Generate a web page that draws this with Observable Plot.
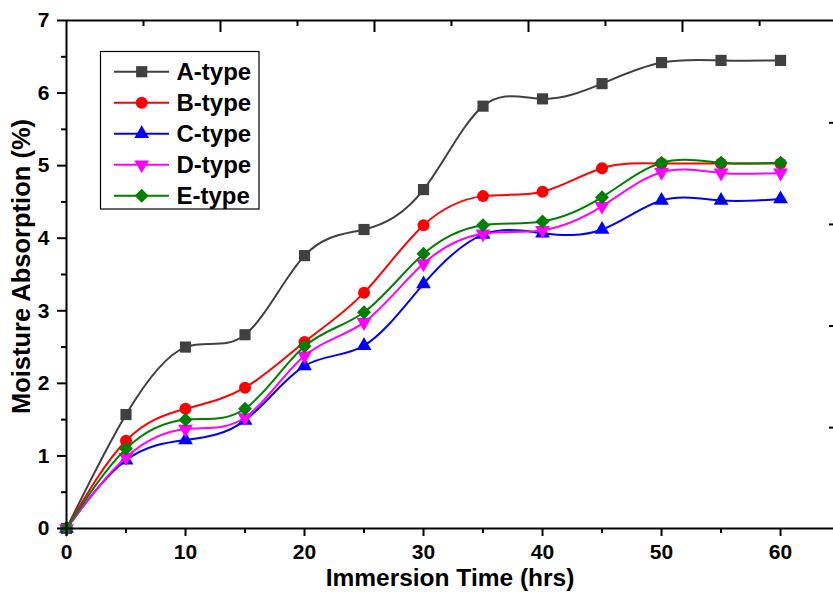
<!DOCTYPE html>
<html><head><meta charset="utf-8">
<script src="https://cdn.jsdelivr.net/npm/d3@7"></script>
<script src="https://cdn.jsdelivr.net/npm/@observablehq/plot@0.6"></script>
<style>
body{margin:0;background:#fff}
#chart{width:833px;height:592px}
</style>
</head><body><div id="chart"></div>
<script>
// ---- data ----
const times = [0,5,10,15,20,25,30,35,40,45,50,55,60];
const seriesNames = ["A-type","B-type","C-type","D-type","E-type"];
const aType = [0,1.57,2.50,2.67,3.76,4.12,4.67,5.82,5.92,6.13,6.42,6.45,6.45];
const bType = [0,1.21,1.65,1.94,2.57,3.25,4.18,4.58,4.64,4.965,5.03,5.03,5.03];
const cType = [0,0.94,1.22,1.49,2.24,2.52,3.37,4.05,4.07,4.12,4.52,4.52,4.54];
const dType = [0,0.98,1.37,1.53,2.38,2.84,3.65,4.06,4.11,4.44,4.91,4.90,4.90];
const eType = [0,1.10,1.50,1.65,2.51,2.98,3.785,4.18,4.23,4.565,5.04,5.04,5.04];
const seriesColors = ["#404040","#ff0000","#0000ff","#ff00ff","#008000"];
const xTicks = [0,10,20,30,40,50,60];
const xMinorTicks = [5,15,25,35,45,55];
const yTicks = [0,1,2,3,4,5,6,7];
const yMinorTicks = [0.5,1.5,2.5,3.5,4.5,5.5,6.5];
const topMajorTicks = [12.94,25.88,38.82,51.76];
const topMinorTicks = [6.47,19.41,32.35,45.29,58.24];
const rightTicks = [1.39,2.79,4.19,5.59];
const xTitle = "Immersion Time (hrs)";
const yTitle = "Moisture Absorption (%)";

// ---- symbols ----
const sqrt3 = Math.sqrt(3);
const triangleDown = {
  draw(context, size) {
    const y = -Math.sqrt(size / (sqrt3 * 3));
    context.moveTo(0, -y * 2);
    context.lineTo(-sqrt3 * y, y);
    context.lineTo(sqrt3 * y, y);
    context.closePath();
  }
};
const seriesSymbols = [d3.symbolSquare, d3.symbolCircle, d3.symbolTriangle, triangleDown, d3.symbolDiamond2];
const seriesR = [6.3, 6, 5.5, 5.5, 6.3];

const allValues = [aType,bType,cType,dType,eType];
const rows = seriesNames.map((name, i) => times.map((t, j) => ({series: name, t, v: allValues[i][j]})));

const W = 833, H = 592, mL = 66, mR = 0, mT = 20, mB = 64;
const frameH = H - mT - mB, frameW = W - mL - mR;
const font = "'Liberation Sans', Arial, Helvetica, sans-serif";

const seriesMarks = [];
rows.forEach((data, i) => {
  seriesMarks.push(Plot.line(data, {x: "t", y: "v", stroke: seriesColors[i], strokeWidth: 2, curve: "natural"}));
  seriesMarks.push(Plot.dot(data, {x: "t", y: "v", fill: seriesColors[i], stroke: "none", symbol: seriesSymbols[i], r: seriesR[i]}));
});

const plot = Plot.plot({
  width: W, height: H,
  marginLeft: mL, marginRight: mR, marginTop: mT, marginBottom: mB,
  style: {fontFamily: font, fontSize: "21px", fontWeight: "bold", color: "#000", background: "#fff", overflow: "visible"},
  x: {domain: [0, 64.45], axis: null},
  y: {domain: [0, 7], axis: null},
  marks: [
    ...seriesMarks,
    Plot.ruleX([0], {stroke: "#000", strokeWidth: 2}),
    Plot.ruleY([0, 7], {stroke: "#000", strokeWidth: 2}),
    Plot.axisY(yTicks, {tickSize: 9, tickPadding: 8, strokeWidth: 2, label: null, fontSize: 21, tickFormat: d => String(d)}),
    Plot.axisY(yMinorTicks, {tickSize: 5, tickFormat: () => "", strokeWidth: 2, label: null}),
    Plot.axisX(xTicks, {tickSize: 8, tickPadding: 8, strokeWidth: 2, label: null, fontSize: 21, tickFormat: d => String(d)}),
    Plot.axisX(xMinorTicks, {tickSize: 5, tickFormat: () => "", strokeWidth: 2, label: null}),
    Plot.tickX(topMajorTicks, {x: d => d, insetBottom: frameH - 12, stroke: "#000", strokeWidth: 2}),
    Plot.tickX(topMinorTicks, {x: d => d, insetBottom: frameH - 6, stroke: "#000", strokeWidth: 2}),
    Plot.tickY(rightTicks, {y: d => d, insetLeft: frameW - 4, stroke: "#000", strokeWidth: 2}),
    Plot.text([yTitle], {text: d => d, frameAnchor: "left", textAnchor: "middle", lineAnchor: "middle", dx: -45, dy: -8, rotate: -90, fontSize: 25.5, fontWeight: "bold", fill: "#000"}),
    Plot.text([xTitle], {text: d => d, frameAnchor: "bottom", textAnchor: "middle", lineAnchor: "middle", dy: 50, fontSize: 24.5, fontWeight: "bold", fill: "#000"})
  ]
});

// ---- legend ----
const svg = d3.select(plot);
const lg = svg.append("g").attr("font-family", font).attr("font-weight", "bold").attr("font-size", 24).attr("text-anchor", "start");
lg.append("rect").attr("x", 100.5).attr("y", 51.5).attr("width", 158.5).attr("height", 157.5)
  .attr("fill", "#fff").attr("stroke", "#000").attr("stroke-width", 1.2);
seriesNames.forEach((name, i) => {
  const y = 71.7 + i * 31;
  lg.append("line").attr("x1", 114).attr("x2", 169).attr("y1", y).attr("y2", y)
    .attr("stroke", seriesColors[i]).attr("stroke-width", 2);
  lg.append("path").attr("transform", `translate(141.7,${y})`)
    .attr("d", d3.symbol(seriesSymbols[i], Math.PI * seriesR[i] * seriesR[i])())
    .attr("fill", seriesColors[i]);
  lg.append("text").attr("x", 176.5).attr("y", y).attr("dy", "0.36em").attr("text-anchor", "start")
    .style("font-size", "24px").attr("fill", "#000").text(name);
});

document.getElementById("chart").appendChild(plot);
</script>
</body></html>
